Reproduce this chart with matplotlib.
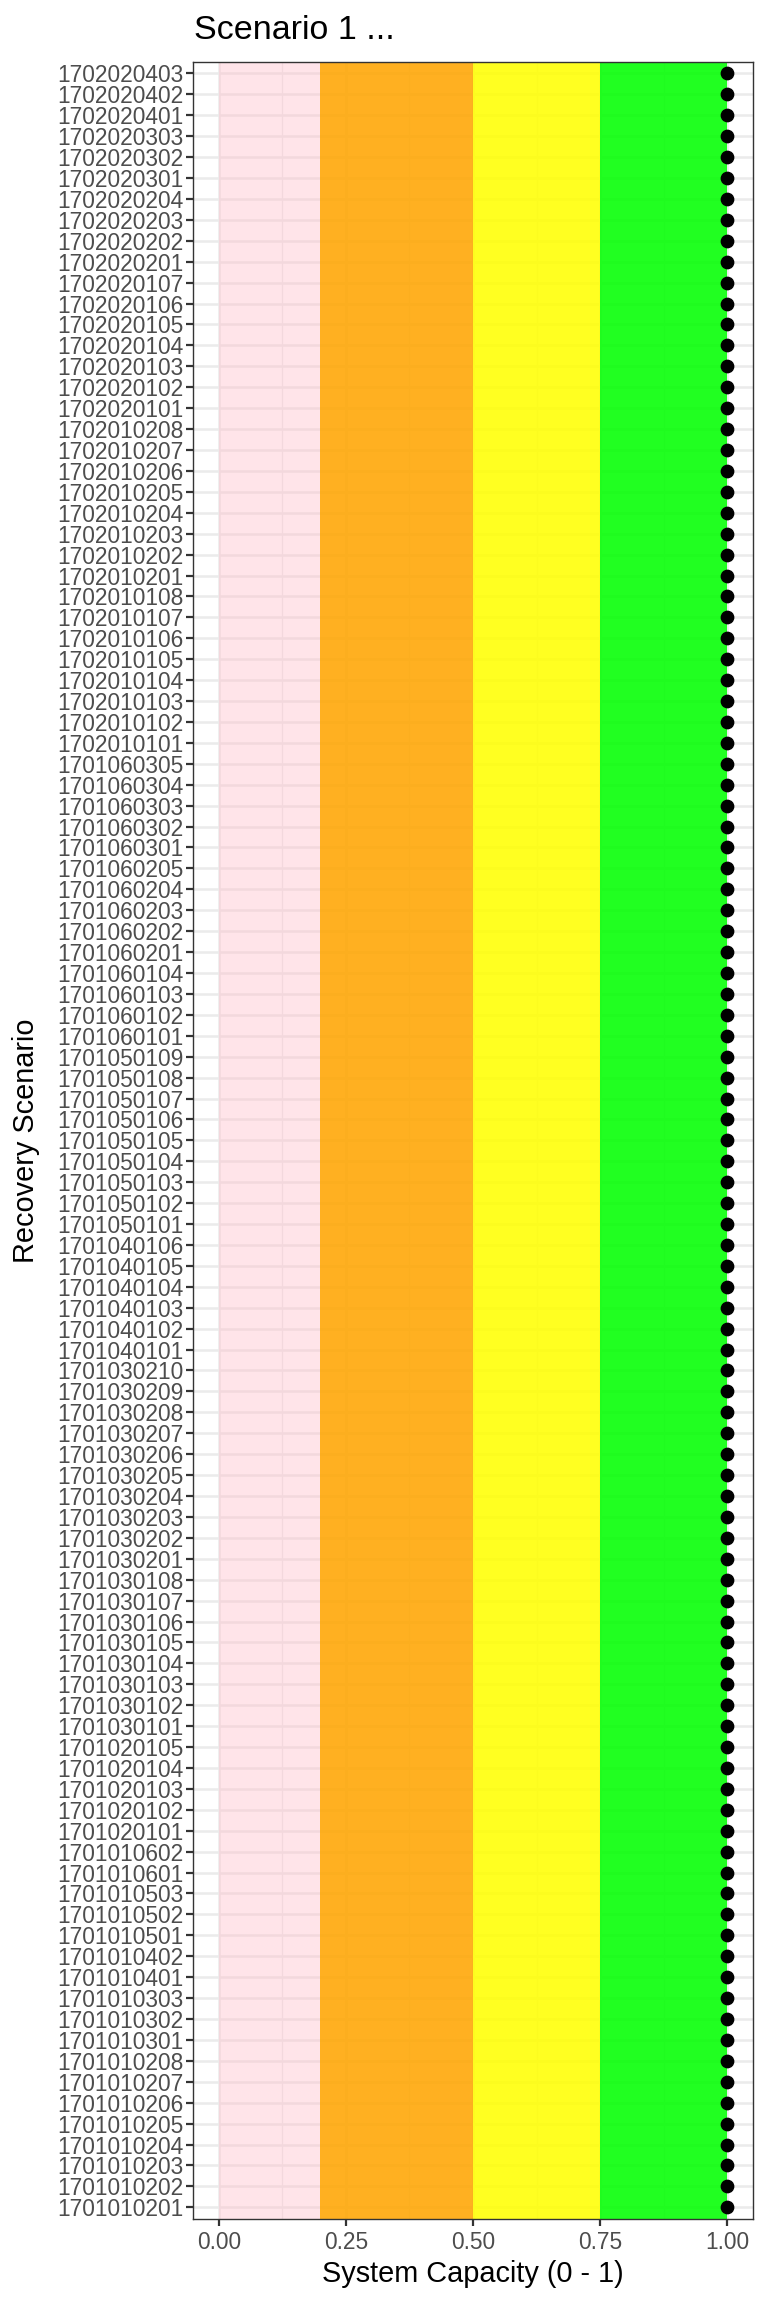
import numpy as np
import matplotlib
matplotlib.use("Agg")
import matplotlib.pyplot as plt

plt.rcParams['font.family'] = ['Liberation Sans', 'DejaVu Sans']

# recovery scenarios, as listed from top to bottom of the chart
scenarios = [
    '1702020403', '1702020402', '1702020401', '1702020303', '1702020302',
    '1702020301', '1702020204', '1702020203', '1702020202', '1702020201',
    '1702020107', '1702020106', '1702020105', '1702020104', '1702020103',
    '1702020102', '1702020101', '1702010208', '1702010207', '1702010206',
    '1702010205', '1702010204', '1702010203', '1702010202', '1702010201',
    '1702010108', '1702010107', '1702010106', '1702010105', '1702010104',
    '1702010103', '1702010102', '1702010101', '1701060305', '1701060304',
    '1701060303', '1701060302', '1701060301', '1701060205', '1701060204',
    '1701060203', '1701060202', '1701060201', '1701060104', '1701060103',
    '1701060102', '1701060101', '1701050109', '1701050108', '1701050107',
    '1701050106', '1701050105', '1701050104', '1701050103', '1701050102',
    '1701050101', '1701040106', '1701040105', '1701040104', '1701040103',
    '1701040102', '1701040101', '1701030210', '1701030209', '1701030208',
    '1701030207', '1701030206', '1701030205', '1701030204', '1701030203',
    '1701030202', '1701030201', '1701030108', '1701030107', '1701030106',
    '1701030105', '1701030104', '1701030103', '1701030102', '1701030101',
    '1701020105', '1701020104', '1701020103', '1701020102', '1701020101',
    '1701010602', '1701010601', '1701010503', '1701010502', '1701010501',
    '1701010402', '1701010401', '1701010303', '1701010302', '1701010301',
    '1701010208', '1701010207', '1701010206', '1701010205', '1701010204',
    '1701010203', '1701010202', '1701010201',
]

# system capacity for each scenario (same order)
capacity = [
    1.0, 1.0, 1.0, 1.0, 1.0, 1.0, 1.0, 1.0, 1.0, 1.0,
    1.0, 1.0, 1.0, 1.0, 1.0, 1.0, 1.0, 1.0, 1.0, 1.0,
    1.0, 1.0, 1.0, 1.0, 1.0, 1.0, 1.0, 1.0, 1.0, 1.0,
    1.0, 1.0, 1.0, 1.0, 1.0, 1.0, 1.0, 1.0, 1.0, 1.0,
    1.0, 1.0, 1.0, 1.0, 1.0, 1.0, 1.0, 1.0, 1.0, 1.0,
    1.0, 1.0, 1.0, 1.0, 1.0, 1.0, 1.0, 1.0, 1.0, 1.0,
    1.0, 1.0, 1.0, 1.0, 1.0, 1.0, 1.0, 1.0, 1.0, 1.0,
    1.0, 1.0, 1.0, 1.0, 1.0, 1.0, 1.0, 1.0, 1.0, 1.0,
    1.0, 1.0, 1.0, 1.0, 1.0, 1.0, 1.0, 1.0, 1.0, 1.0,
    1.0, 1.0, 1.0, 1.0, 1.0, 1.0, 1.0, 1.0, 1.0, 1.0,
    1.0, 1.0, 1.0,
]

# capacity bands
band_lo = [0.0, 0.2, 0.5, 0.75]
band_hi = [0.2, 0.5, 0.75, 1.0]
band_col = ['pink', 'orange', 'yellow', 'lime']
band_alpha = [0.42, 0.87, 0.87, 0.87]

xticks = [0.0, 0.25, 0.5, 0.75, 1.0]
xminor = [0.125, 0.375, 0.625, 0.875]

W, H = 768, 2304
fig = plt.figure(figsize=(W / 100, H / 100), dpi=100)
fig.subplots_adjust(left=193.3 / W, right=752.7 / W,
                    top=1 - 61.7 / H, bottom=1 - 2219 / H)
ax = fig.add_subplot(111)

n = len(scenarios)
ypos = np.arange(n)
exp = 0.56

# grid (under the bands)
for y in ypos:
    ax.axhline(y, color='#EBEBEB', lw=1.8, zorder=0)
for x in xticks:
    ax.axvline(x, color='#EBEBEB', lw=1.8, zorder=0)
for x in xminor:
    ax.axvline(x, color='#EBEBEB', lw=0.9, zorder=0)

for lo, hi, c, a in zip(band_lo, band_hi, band_col, band_alpha):
    ax.axvspan(lo, hi, color=c, alpha=a, lw=0, zorder=1)

ax.plot(capacity, ypos, 'o', color='black', ms=8.9, zorder=3)

ax.set_xlim(-0.05, 1.05)
ax.set_ylim(n - 1 + exp, -exp)
ax.set_xticks(xticks)
ax.set_xticklabels(['0.00', '0.25', '0.50', '0.75', '1.00'])
ax.set_yticks(ypos)
ax.set_yticklabels(scenarios)
ax.tick_params(axis='both', colors='#333333', length=5.2, width=1.6,
               labelsize=16.4, labelcolor='#4D4D4D', pad=1.8)
ax.tick_params(axis='x', pad=3.5)
for s in ax.spines.values():
    s.set_color('#333333')
    s.set_linewidth(1.0)
    s.set_zorder(4)

fig.text(194 / W, 1 - 39.3 / H, 'Scenario 1 ...', fontsize=24.5,
         ha='left', va='baseline', color='black')
fig.text((193.3 + 752.7) / 2 / W, 1 - 2281.7 / H, 'System Capacity (0 - 1)',
         fontsize=20.8, ha='center', va='baseline', color='black')
fig.text(26 / W, 1 - (61.7 + 2219) / 2 / H, 'Recovery Scenario',
         fontsize=20.8, rotation=90, ha='center', va='center', color='black')

fig.savefig('out.png', dpi=100)
